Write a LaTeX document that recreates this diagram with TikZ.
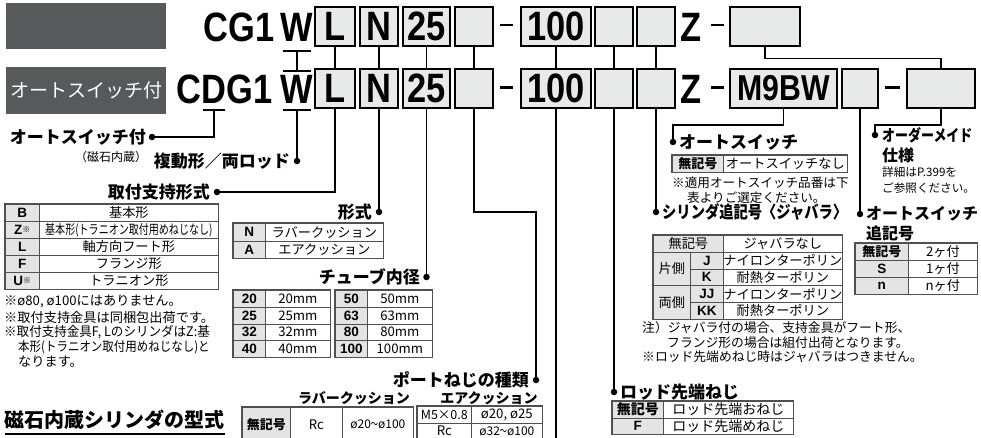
\documentclass[tikz,border=0pt]{standalone}
\usepackage{fontspec}
\usepackage{graphicx}
\setmainfont{Noto Sans CJK JP}
\newfontfamily\lat{Liberation Sans}
\newfontfamily\codef{Liberation Sans}[FakeStretch=0.84]
\definecolor{darkbox}{HTML}{58595B}
\definecolor{boxgray}{HTML}{E8E9E9}
\definecolor{cellgray}{HTML}{E4E4E4}
\definecolor{tblline}{HTML}{505050}
\newcommand\cb[7]{\node[#1, minimum width=#5pt, minimum height=#6pt, anchor=north west] (#2) at (#3,#4) {#7};}
\newcommand\wave{\scalebox{0.6}[1]{〜}}
\tikzset{
 codebox/.style={draw=black, fill=boxgray, line width=1.3pt, inner sep=0pt, minimum height=39pt, font=\codef\bfseries\fontsize{41}{41}\selectfont},
 codetxt/.style={inner sep=0pt, font=\codef\bfseries\fontsize{41}{41}\selectfont},
 dashbar/.style={fill=black, inner sep=0pt, minimum width=13pt, minimum height=2.6pt},
 link/.style={line width=1.2pt},
 lead/.style={line width=1.3pt},
 dot/.style={circle, fill=black, inner sep=0pt, minimum size=6.5pt},
 lbl/.style={inner sep=0pt, font=\fontsize{17}{19}\selectfont\bfseries},
 note/.style={inner sep=0pt, anchor=west, font=\fontsize{13.2}{14}\selectfont},
 cellw/.style={draw=tblline, fill=white, line width=0.7pt, inner sep=0pt, font=\fontsize{13.2}{14}\selectfont},
 cellg/.style={cellw, fill=cellgray, font=\lat\bfseries\fontsize{13.5}{14}\selectfont},
 cellgj/.style={cellw, fill=cellgray, font=\bfseries\fontsize{13}{14}\selectfont},
 cellgr/.style={cellw, fill=cellgray},
 tblout/.style={draw=tblline, line width=1.3pt},
}
\begin{document}
\begin{tikzpicture}[x=1pt,y=-1pt]
\useasboundingbox (0,0) rectangle (981,437);
\clip (0,0) rectangle (981,437);
% header boxes
\node[fill=darkbox, minimum width=160pt, minimum height=46pt, inner sep=0pt, anchor=north west] (hd1) at (6,3) {};
\node[fill=darkbox, minimum width=160pt, minimum height=47pt, inner sep=0pt, anchor=north west, text=white, font=\fontsize{19}{19}\selectfont] (hd2) at (6,67) {オートスイッチ付};
% row 1
\node[codetxt, anchor=base east] (aCG) at (275,41.5) {CG1};
\node[codetxt, anchor=base] (aW) at (297,41.5) {W};
\node[codebox, minimum width=40pt] (aL) at (335,26.5) {L};
\node[codebox, minimum width=38pt] (aN) at (379,26.5) {N};
\node[codebox, minimum width=47pt] (a25) at (426.5,26.5) {25};
\node[codebox, minimum width=38pt] (aB1) at (474,26.5) {};
\node[dashbar] (aD1) at (506,25) {};
\node[codebox, minimum width=70pt] (a100) at (556,26.5) {100};
\node[codebox, minimum width=38pt] (aB2) at (614,26.5) {};
\node[codebox, minimum width=38pt] (aB3) at (656,26.5) {};
\node[codetxt, anchor=base] (aZ) at (691,41.5) {Z};
\node[dashbar] (aD2) at (717.5,25) {};
\node[codebox, minimum width=70pt] (aLast) at (765,26.5) {};
% row 2
\node[codetxt, anchor=base] (bD) at (214,103.5) {D};
\node[codetxt, anchor=base east] (bC) at (bD.base west) {C};
\node[codetxt, anchor=base west] (bG) at (bD.base east) {G1};
\node[codetxt, anchor=base] (bW) at (297,103.5) {W};
\node[codebox, minimum width=40pt] (bL) at (335,88.5) {L};
\node[codebox, minimum width=38pt] (bN) at (379,88.5) {N};
\node[codebox, minimum width=47pt] (b25) at (426.5,88.5) {25};
\node[codebox, minimum width=38pt] (bB1) at (474,88.5) {};
\node[dashbar] (bD1) at (506,87.5) {};
\node[codebox, minimum width=70pt] (b100) at (556,88.5) {100};
\node[codebox, minimum width=38pt] (bB2) at (614,88.5) {};
\node[codebox, minimum width=38pt] (bB3) at (656,88.5) {};
\node[codetxt, anchor=base] (bZ) at (691,103.5) {Z};
\node[dashbar] (bD2) at (717.5,87.5) {};
\node[codebox, minimum width=107pt, font=\codef\bfseries\fontsize{36}{36}\selectfont] (bM) at (783.5,88.5) {M9BW};
\node[codebox, minimum width=36pt] (bB4) at (860,88.5) {};
\node[dashbar, minimum height=3.2pt, minimum width=15pt] (bD3) at (892.5,87.5) {};
\node[codebox, minimum width=68pt] (bLast) at (941,88.5) {};
% underline brackets
\coordinate (uW1a) at (283,51); \coordinate (uW1b) at (311,51); \coordinate (uW1c) at (297,51);
\coordinate (oW2a) at (283,71); \coordinate (oW2b) at (311,71); \coordinate (oW2c) at (297,71);
\coordinate (uW2a) at (283,110); \coordinate (uW2b) at (311,110); \coordinate (uW2c) at (297,110);
\coordinate (uDa) at (203,110); \coordinate (uDb) at (225,110); \coordinate (uDc) at (214,110);
\draw[link] (uW1a) -- (uW1b);
\draw[link] (oW2a) -- (oW2b);
\draw[link] (uW1c) -- (oW2c);
\draw[link] (uW2a) -- (uW2b);
\draw[link] (uDa) -- (uDb);
% row links
\draw[link] (aL.south) -- (bL.north);
\draw[link] (aN.south) -- (bN.north);
\draw[link] (a25.south) -- (b25.north);
\draw[link] (aB1.south) -- (bB1.north);
\draw[link] (a100.south) -- (b100.north);
\draw[link] (aB2.south) -- (bB2.north);
\draw[link] (aB3.south) -- (bB3.north);
\draw[link] (aLast.south) -- ++(0,12) -| (bLast.north);
% leaders
\node[dot] (d1) at (152,137) {};
\node[lbl, anchor=east] (l1) at (146,137) {オートスイッチ付};
\node[inner sep=0pt, font=\fontsize{12}{13}\selectfont] (l1s) at (111,157) {（磁石内蔵）};
\draw[lead] (uDc) |- (d1.center);
\node[dot] (d2) at (297,161) {};
\node[lbl, anchor=east] (l2) at (290,161) {複動形／両ロッド};
\draw[lead] (uW2c) -- (d2.center);
\node[dot] (d3) at (217,192) {};
\node[lbl, anchor=east] (l3) at (210,192) {取付支持形式};
\draw[lead] (bL.south) |- (d3.center);
\node[dot] (d4) at (379,212) {};
\node[lbl, anchor=east] (l4) at (372,212) {形式};
\draw[lead] (bN.south) -- (d4.center);
\node[dot] (d5) at (426.5,277) {};
\node[lbl, anchor=east] (l5) at (420,277) {チューブ内径};
\draw[lead] (b25.south) -- (d5.center);
\node[dot] (d6) at (536,380) {};
\coordinate (c6) at (536,212);
\node[lbl, anchor=east] (l6) at (529,380) {ポートねじの種類};
\draw[lead] (bB1.south) |- (c6) -- (d6.center);
\coordinate (e7) at (556,440);
\draw[lead] (b100.south) -- (e7);
\node[dot] (d8) at (614,392) {};
\node[lbl, anchor=west] (l8) at (620,392) {ロッド先端ねじ};
\draw[lead] (bB2.south) -- (d8.center);
\node[dot] (d9) at (656,212) {};
\node[lbl, anchor=west] (l9) at (662,212) {\scalebox{0.84}[1]{シリンダ追記号〈ジャバラ〉}};
\draw[lead] (bB3.south) -- (d9.center);
\node[dot] (d10) at (673,142) {};
\coordinate (c10) at (673,125);
\node[lbl, anchor=west] (l10) at (679,142) {オートスイッチ};
\draw[lead] (bM.south) |- (c10) -- (d10.center);
\node[dot] (d11) at (860,214) {};
\node[lbl, anchor=west, font=\fontsize{16}{18}\selectfont\bfseries] (l11) at (866,214) {オートスイッチ};
\node[lbl, anchor=west, font=\fontsize{16}{18}\selectfont\bfseries] (l11b) at (866,233) {追記号};
\draw[lead] (bB4.south) -- (d11.center);
\node[dot] (d12) at (875,135) {};
\coordinate (c12) at (875,125);
\node[lbl, anchor=west, font=\fontsize{16}{18}\selectfont\bfseries] (l12) at (882,135) {\scalebox{0.81}[1]{オーダーメイド}};
\node[lbl, anchor=west, font=\fontsize{16}{18}\selectfont\bfseries] (l12b) at (882,155) {仕様};
\node[note, font=\fontsize{11.6}{13}\selectfont] (l12c) at (882,172) {詳細はP.399を};
\node[note, font=\fontsize{11.6}{13}\selectfont] (l12d) at (882,188) {ご参照ください。};
\draw[lead] (bLast.south) |- (c12) -- (d12.center);
% table 1
\cb{cellg}{t1a}{5}{204}{34}{17}{B}
\cb{cellw}{t1b}{39}{204}{179}{17}{基本形}
\cb{cellg}{t1c}{5}{221}{34}{17}{Z\raisebox{2pt}{\normalfont\fontsize{8}{8}\selectfont ※}}
\cb{cellw}{t1d}{39}{221}{179}{17}{\scalebox{0.76}[1]{基本形(トラニオン取付用めねじなし)}}
\cb{cellg}{t1e}{5}{238}{34}{17}{L}
\cb{cellw}{t1f}{39}{238}{179}{17}{軸方向フート形}
\cb{cellg}{t1g}{5}{255}{34}{17}{F}
\cb{cellw}{t1h}{39}{255}{179}{17}{フランジ形}
\cb{cellg}{t1i}{5}{272}{34}{17}{U\raisebox{2pt}{\normalfont\fontsize{8}{8}\selectfont ※}}
\cb{cellw}{t1j}{39}{272}{179}{17}{トラニオン形}
\draw[tblout] (t1a.north west) rectangle (t1j.south east);
\node[note] (n1) at (4,302) {※ø80, ø100にはありません。};
\node[note] (n2) at (4,317) {※取付支持金具は同梱包出荷です。};
\node[note] (n3) at (4,332) {\scalebox{0.95}[1]{※取付支持金具F, LのシリンダはZ:基}};
\node[note] (n4) at (18,347) {\scalebox{0.87}[1]{本形(トラニオン取付用めねじなし)と}};
\node[note] (n5) at (18,362) {なります。};
% heading
\node[inner sep=0pt, anchor=west, font=\fontsize{20}{22}\selectfont\bfseries] (hd) at (4,420) {磁石内蔵シリンダの型式};
\coordinate (hu1) at (5,434); \coordinate (hu2) at (225,434);
\draw[line width=1.2pt] (hu1) -- (hu2);
% table 2
\cb{cellg}{t2a}{233}{223}{32}{17.5}{N}
\cb{cellw}{t2b}{265}{223}{118}{17.5}{ラバークッション}
\cb{cellg}{t2c}{233}{240.5}{32}{17.5}{A}
\cb{cellw}{t2d}{265}{240.5}{118}{17.5}{エアクッション}
\draw[tblout] (t2a.north west) rectangle (t2d.south east);
% table 3
\cb{cellg}{t3a}{233}{290}{32}{16.75}{20}
\cb{cellw}{t3b}{265}{290}{65}{16.75}{20mm}
\cb{cellg}{t3c}{233}{306.75}{32}{16.75}{25}
\cb{cellw}{t3d}{265}{306.75}{65}{16.75}{25mm}
\cb{cellg}{t3e}{233}{323.5}{32}{16.75}{32}
\cb{cellw}{t3f}{265}{323.5}{65}{16.75}{32mm}
\cb{cellg}{t3g}{233}{340.25}{32}{16.75}{40}
\cb{cellw}{t3h}{265}{340.25}{65}{16.75}{40mm}
\draw[tblout] (t3a.north west) rectangle (t3h.south east);
\cb{cellg}{t3i}{335}{290}{32}{16.75}{50}
\cb{cellw}{t3j}{367}{290}{65}{16.75}{50mm}
\cb{cellg}{t3k}{335}{306.75}{32}{16.75}{63}
\cb{cellw}{t3l}{367}{306.75}{65}{16.75}{63mm}
\cb{cellg}{t3m}{335}{323.5}{32}{16.75}{80}
\cb{cellw}{t3n}{367}{323.5}{65}{16.75}{80mm}
\cb{cellg}{t3o}{335}{340.25}{32}{16.75}{100}
\cb{cellw}{t3p}{367}{340.25}{65}{16.75}{100mm}
\draw[tblout] (t3i.north west) rectangle (t3p.south east);
% table 4
\node[inner sep=0pt, font=\fontsize{14}{16}\selectfont\bfseries] (s4a) at (354,398) {ラバークッション};
\node[inner sep=0pt, font=\fontsize{14}{16}\selectfont\bfseries] (s4b) at (489,398) {エアクッション};
\cb{cellgj}{t4a}{242}{407}{48}{34}{無記号}
\cb{cellw}{t4b}{290}{407}{52}{34}{Rc}
\cb{cellw}{t4c}{342}{407}{71}{34}{\fontsize{12}{14}\selectfont ø20\wave ø100}
\draw[tblout] (t4a.north west) rectangle (t4c.south east);
\cb{cellw}{t4d}{417}{406}{54}{16.5}{\fontsize{12.5}{14}\selectfont M5×0.8}
\cb{cellw}{t4e}{471}{406}{71}{16.5}{ø20, ø25}
\cb{cellw}{t4f}{417}{422.5}{54}{16.5}{Rc}
\cb{cellw}{t4g}{471}{422.5}{71}{16.5}{\fontsize{12}{14}\selectfont ø32\wave ø100}
\draw[tblout] (t4d.north west) rectangle (t4g.south east);
% table 5
\cb{cellgj}{t5a}{672}{155}{51}{17}{無記号}
\cb{cellw}{t5b}{723}{155}{124}{17}{オートスイッチなし}
\draw[tblout] (t5a.north west) rectangle (t5b.south east);
\node[note, font=\fontsize{12.6}{14}\selectfont] (n6) at (672,183) {※適用オートスイッチ品番は下};
\node[note, font=\fontsize{12.6}{14}\selectfont] (n7) at (687,198) {表よりご選定ください。};
% table 6
\cb{cellgr}{t6a}{653}{235}{70}{17}{無記号}
\cb{cellw}{t6b}{723}{235}{119}{17}{ジャバラなし}
\cb{cellgr}{t6c}{653}{252}{37}{33}{片側}
\cb{cellg}{t6d}{690}{252}{33}{16.5}{J}
\cb{cellw}{t6e}{723}{252}{119}{16.5}{ナイロンターポリン}
\cb{cellg}{t6f}{690}{268.5}{33}{16.5}{K}
\cb{cellw}{t6g}{723}{268.5}{119}{16.5}{耐熱ターポリン}
\cb{cellgr}{t6h}{653}{285}{37}{34}{両側}
\cb{cellg}{t6i}{690}{285}{33}{17}{JJ}
\cb{cellw}{t6j}{723}{285}{119}{17}{ナイロンターポリン}
\cb{cellg}{t6k}{690}{302}{33}{17}{KK}
\cb{cellw}{t6l}{723}{302}{119}{17}{耐熱ターポリン}
\draw[tblout] (t6a.north west) rectangle (t6l.south east);
\node[note, font=\fontsize{12.8}{14}\selectfont] (n8) at (642,328) {注）ジャバラ付の場合、支持金具がフート形、};
\node[note, font=\fontsize{12.8}{14}\selectfont] (n9) at (667,343) {フランジ形の場合は組付出荷となります。};
\node[note, font=\fontsize{12.8}{14}\selectfont] (n10) at (642,357) {※ロッド先端めねじ時はジャバラはつきません。};
% table 7
\cb{cellgj}{t7a}{855}{243}{53}{17}{無記号}
\cb{cellw}{t7b}{908}{243}{69}{17}{2ヶ付}
\cb{cellg}{t7c}{855}{260}{53}{17}{S}
\cb{cellw}{t7d}{908}{260}{69}{17}{1ヶ付}
\cb{cellg}{t7e}{855}{277}{53}{17}{n}
\cb{cellw}{t7f}{908}{277}{69}{17}{nヶ付}
\draw[tblout] (t7a.north west) rectangle (t7f.south east);
% table 8
\cb{cellgj}{t8a}{612}{401}{51}{16.5}{\fontsize{14}{15}\selectfont 無記号}
\cb{cellw}{t8b}{663}{401}{130}{16.5}{\fontsize{14}{15}\selectfont ロッド先端おねじ}
\cb{cellg}{t8c}{612}{417.5}{51}{16.5}{F}
\cb{cellw}{t8d}{663}{417.5}{130}{16.5}{\fontsize{14}{15}\selectfont ロッド先端めねじ}
\draw[tblout] (t8a.north west) rectangle (t8d.south east);
\end{tikzpicture}
\end{document}
